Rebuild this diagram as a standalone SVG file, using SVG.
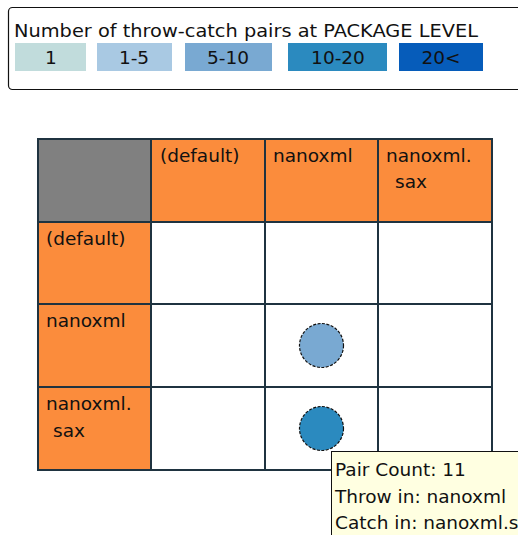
<svg xmlns="http://www.w3.org/2000/svg" width="518" height="535" viewBox="0 0 518 535">
<style>
text{font-family:"DejaVu Sans","Liberation Sans",sans-serif;font-size:18.5px;fill:#111}
.hdr{fill:#fb8c3c}
.cell{fill:#ffffff}
.grid{stroke:#1f3340;stroke-width:2;fill:none}
.dot{stroke:#111;stroke-width:1.2;stroke-dasharray:3 1.5}
</style>
<rect width="518" height="535" fill="#ffffff"/>
<g id="legend">
<rect x="8.5" y="7.5" width="520" height="82" rx="4" fill="#ffffff" stroke="#111" stroke-width="1.2"/>
<text x="14" y="37" textLength="464" lengthAdjust="spacingAndGlyphs">Number of throw-catch pairs at PACKAGE LEVEL</text>
<rect x="15" y="43" width="71" height="28" fill="#c1dcdc"/>
<text x="51" y="64" text-anchor="middle">1</text>
<rect x="97" y="43" width="75" height="28" fill="#a9c9e3"/>
<text x="134" y="64" text-anchor="middle">1-5</text>
<rect x="185" y="43" width="87" height="28" fill="#79a9d2"/>
<text x="228" y="64" text-anchor="middle">5-10</text>
<rect x="288" y="43" width="99" height="28" fill="#2b8abf"/>
<text x="338" y="64" text-anchor="middle">10-20</text>
<rect x="399" y="43" width="84" height="28" fill="#065cba"/>
<text x="441" y="64" text-anchor="middle">20&lt;</text>
</g>
<g id="matrix">
<rect x="38" y="139" width="113" height="83" fill="#808080"/>
<rect class="hdr" x="151" y="139" width="114" height="83"/>
<rect class="hdr" x="265" y="139" width="113" height="83"/>
<rect class="hdr" x="378" y="139" width="114" height="83"/>
<rect class="hdr" x="38" y="222" width="113" height="82"/>
<rect class="hdr" x="38" y="304" width="113" height="83"/>
<rect class="hdr" x="38" y="387" width="113" height="83"/>
<rect class="cell" x="151" y="222" width="341" height="248"/>
<path class="grid" d="M38 139H492V470H38Z M151 139V470 M265 139V470 M378 139V470 M38 222H492 M38 304H492 M38 387H492"/>
</g>
<g id="col-default"><text x="160" y="162">(default)</text></g>
<g id="col-nanoxml"><text x="273" y="162">nanoxml</text></g>
<g id="col-nanoxml-sax"><text x="386" y="162">nanoxml.</text><text x="395" y="188">sax</text></g>
<g id="row-default"><text x="46" y="245">(default)</text></g>
<g id="row-nanoxml"><text x="46" y="327">nanoxml</text></g>
<g id="row-nanoxml-sax"><text x="46" y="410">nanoxml.</text><text x="53" y="437">sax</text></g>
<g id="pair-nanoxml-nanoxml"><circle class="dot" cx="321.5" cy="345.5" r="22" fill="#79a9d2"/></g>
<g id="pair-nanoxml-sax"><circle class="dot" cx="321.5" cy="428.5" r="22" fill="#2b8abf"/></g>
<g id="tooltip">
<rect x="331.5" y="451.5" width="200" height="100" fill="#ffffe1" stroke="#111" stroke-width="1"/>
<text x="335" y="476">Pair Count: 11</text>
<text x="335" y="502.5">Throw in: nanoxml</text>
<text x="335" y="529">Catch in: nanoxml.sax</text>
</g>
</svg>
